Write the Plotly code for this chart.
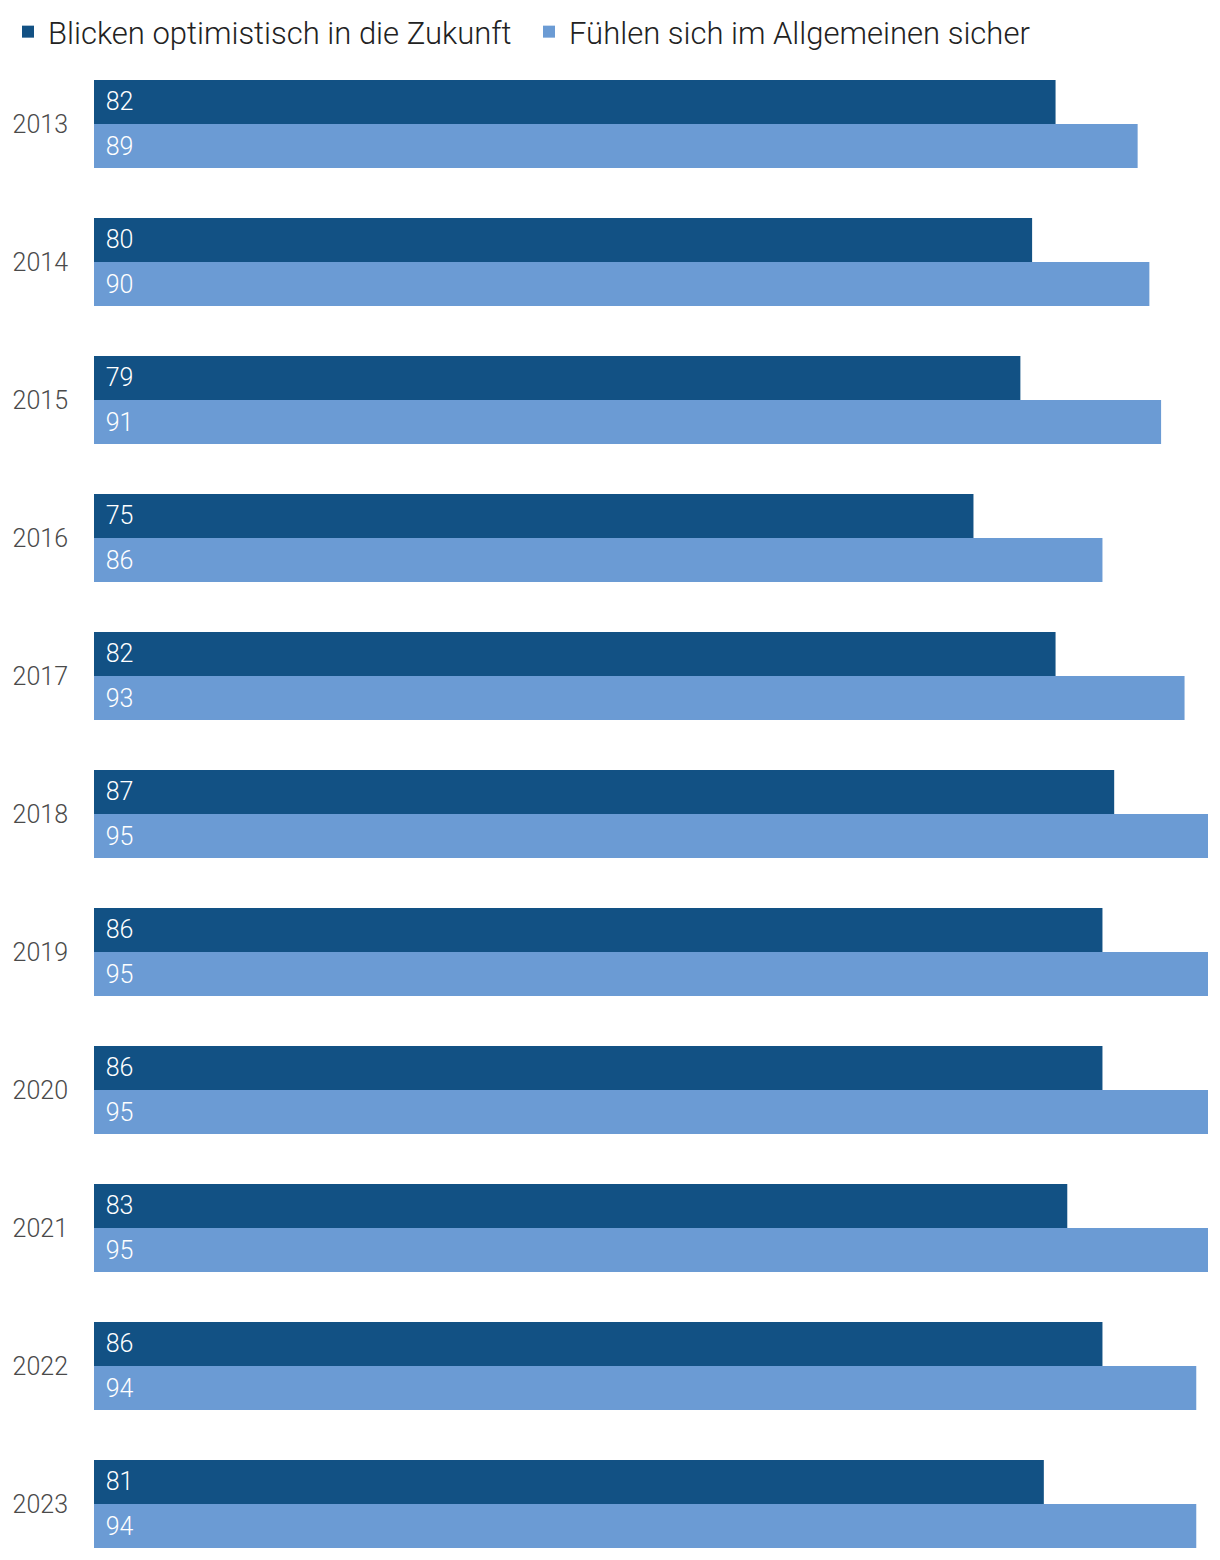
import plotly.graph_objects as go

years = ["2013", "2014", "2015", "2016", "2017", "2018", "2019", "2020", "2021", "2022", "2023"]
optimistisch = [82, 80, 79, 75, 82, 87, 86, 86, 83, 86, 81]
sicher = [89, 90, 91, 86, 93, 95, 95, 95, 95, 94, 94]
series_names = ["Blicken optimistisch in die Zukunft", "Fühlen sich im Allgemeinen sicher"]
colors = ["#125184", "#6b9bd4"]

FONT = "Roboto"
W = 300

fig = go.Figure()
for name, vals, col in zip(series_names, [optimistisch, sicher], colors):
    fig.add_trace(go.Bar(
        y=years, x=vals, name=name, orientation="h",
        marker=dict(color=col, line=dict(width=0)),
        text=vals, texttemplate="\u00a0\u200a%{x}",
        textposition="inside", insidetextanchor="start", textangle=0,
        insidetextfont=dict(family=FONT, size=25, color="white", weight=W),
        hoverinfo="skip",
    ))

n = len(years)
H, T = 1552, 47
# the page body adds an 8px offset, so the figure is 8px smaller
fig.update_layout(
    width=1212, height=H,
    margin=dict(l=86, r=12, t=T, b=0, autoexpand=False),
    paper_bgcolor="white", plot_bgcolor="white",
    barmode="group", bargap=0.362, bargroupgap=0,
    font=dict(family=FONT, size=25, color="#444444", weight=W),
    showlegend=True,
    legend=dict(
        orientation="h", xref="container", yref="paper",
        x=0.0, y=1 + (T + 3) / (H - T), xanchor="left", yanchor="top",
        font=dict(family=FONT, size=31, color="#222222", weight=W),
        traceorder="normal", itemwidth=30,
        entrywidth=476, entrywidthmode="pixels",
    ),
    xaxis=dict(range=[0, 95], visible=False, fixedrange=True, automargin=False),
    yaxis=dict(
        type="category", range=[n - 1 + 0.5 - 13 / 138, -0.5],
        showgrid=False, zeroline=False, showline=False, automargin=False,
        ticks="outside", ticklen=20, tickcolor="rgba(0,0,0,0)",
        tickfont=dict(family=FONT, size=25, color="#4a4a4a", weight=W),
    ),
)

fig.write_html("out.html")
